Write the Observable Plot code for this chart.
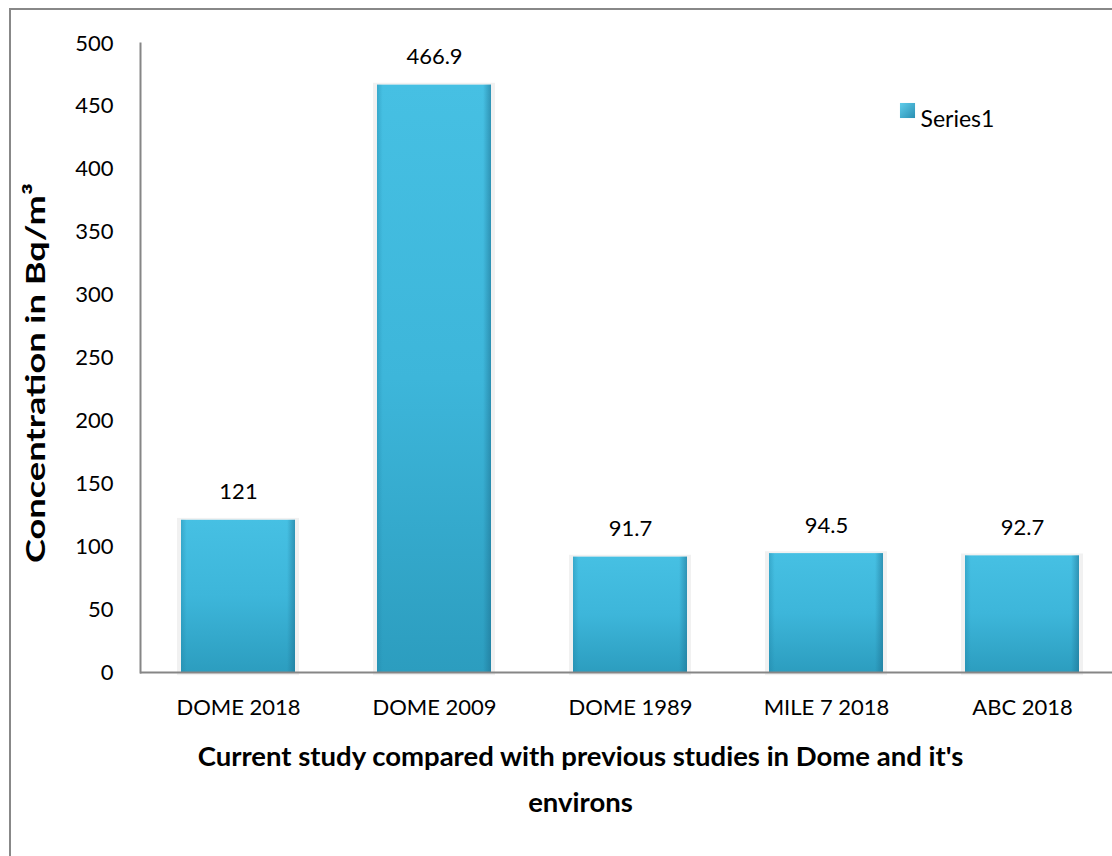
<!DOCTYPE html>
<html>
<head>
<meta charset="utf-8">
<script src="https://cdn.jsdelivr.net/npm/d3@7"></script>
<script src="https://cdn.jsdelivr.net/npm/@observablehq/plot@0.6"></script>
<style>
  html, body { margin: 0; padding: 0; background: #fff; overflow: hidden; }
  #wrap { position: relative; width: 1112px; height: 856px; overflow: hidden; font-family: Lato, "Liberation Sans", sans-serif; }
  #border { position: absolute; left: 9px; top: 8px; width: 1300px; height: 1000px;
            border-left: 2px solid #888; border-top: 2px solid #888; pointer-events: none; }
  #chart { position: absolute; left: 0; top: 0; }
</style>
</head>
<body>
<div id="wrap">
  <div id="chart"></div>
  <div id="border"></div>
</div>
<script>
// Radon concentration by study
const categories = ["DOME 2018", "DOME 2009", "DOME 1989", "MILE 7 2018", "ABC 2018"];
const values = [121, 466.9, 91.7, 94.5, 92.7];
const valueLabels = ["121", "466.9", "91.7", "94.5", "92.7"];
const yTicks = [0, 50, 100, 150, 200, 250, 300, 350, 400, 450, 500];
const seriesName = "Series1";
const yTitle = "Concentration in Bq/m³";
const xTitleLines = ["Current study compared with previous studies in Dome and it's", "environs"];

const rows = categories.map((c, i) => ({cat: c, v: values[i], label: valueLabels[i]}));

const axisGray = "#868686";
const font = "Lato, 'Liberation Sans', sans-serif";

const svg = Plot.plot({
  width: 1112,
  height: 856,
  marginLeft: 140,
  marginTop: 43,
  marginRight: 0,
  marginBottom: 184,
  style: {fontFamily: font, color: "#000", background: "transparent"},
  x: {domain: categories, range: [140, 1120], paddingInner: 0.42, paddingOuter: 0.21},
  y: {domain: [0, 500]},
  marks: [
    // soft halo behind each bar
    Plot.barY(rows, {x: "cat", y1: -2.5, y2: d => d.v + 1.5, fill: "#f1f1f1", insetLeft: -4, insetRight: -4}),
    // bar body
    Plot.barY(rows, {x: "cat", y: "v", fill: "url(#barBody)"}),
    // darker side edges
    Plot.barY(rows, {x: "cat", y: "v", fill: "url(#barEdge)"}),
    // light bevel along the top
    Plot.tickY(rows, {x: "cat", y: "v", stroke: "url(#barTop)", strokeWidth: 9, dy: 4.5}),
    // axes
    Plot.ruleY([0], {stroke: axisGray, strokeWidth: 2}),
    Plot.frame({anchor: "left", stroke: axisGray, strokeWidth: 2}),
    Plot.axisY({ticks: yTicks, tickSize: 0, tickPadding: 27, fontSize: 22, label: null, tickFormat: d => String(d)}),
    Plot.axisX({tickSize: 0, tickPadding: 27, fontSize: 22, label: null}),
    // value labels
    Plot.text(rows, {x: "cat", y: "v", text: "label", dy: -28, fontSize: 22, fill: "#000"}),
    // axis titles
    Plot.text([yTitle], {frameAnchor: "left", textAnchor: "middle", dx: -104, dy: 15, rotate: -90, fontSize: 27, fontWeight: "bold", fill: "#000", className: "y-title"}),
    Plot.text([xTitleLines[0]], {frameAnchor: "bottom", dx: -46, dy: 93, fontSize: 27.5, fontWeight: "bold", fill: "#000"}),
    Plot.text([xTitleLines[1]], {frameAnchor: "bottom", dx: -46, dy: 139, fontSize: 27.5, fontWeight: "bold", fill: "#000"}),
    // legend
    Plot.dot([seriesName], {frameAnchor: "top-left", dx: 767, dy: 67, symbol: "square", r: 8.5, fill: "url(#legendSwatch)"}),
    Plot.text([seriesName], {frameAnchor: "top-left", dx: 780, dy: 67, textAnchor: "start", fontSize: 23, fill: "#000"})
  ]
});

svg.insertAdjacentHTML("afterbegin", `
<defs>
  <linearGradient id="barBody" x1="0" y1="0" x2="0" y2="1">
    <stop offset="0" stop-color="#46c0e3"/>
    <stop offset="0.5" stop-color="#3db6da"/>
    <stop offset="1" stop-color="#2c9dbf"/>
  </linearGradient>
  <linearGradient id="barEdge" x1="0" y1="0" x2="1" y2="0">
    <stop offset="0" stop-color="#1d7ea0" stop-opacity="0.35"/>
    <stop offset="0.05" stop-color="#1d7ea0" stop-opacity="0"/>
    <stop offset="0.93" stop-color="#1d6f8f" stop-opacity="0"/>
    <stop offset="1" stop-color="#1d6f8f" stop-opacity="0.55"/>
  </linearGradient>
  <linearGradient id="barTop" x1="0" y1="0" x2="1" y2="0">
    <stop offset="0" stop-color="#5ccbe9"/>
    <stop offset="0.1" stop-color="#6fd6f0"/>
    <stop offset="0.9" stop-color="#6fd6f0"/>
    <stop offset="1" stop-color="#4fb9d8"/>
  </linearGradient>
  <linearGradient id="legendSwatch" x1="0" y1="0" x2="1" y2="1">
    <stop offset="0" stop-color="#5fcdeb"/>
    <stop offset="1" stop-color="#2a8fb2"/>
  </linearGradient>
</defs>`);

// the vertical title runs the full height beside the ticks
const yTitleText = svg.querySelector(".y-title text");
if (yTitleText) {
  yTitleText.setAttribute("textLength", "380");
  yTitleText.setAttribute("lengthAdjust", "spacingAndGlyphs");
}

document.getElementById("chart").appendChild(svg);
</script>
</body>
</html>
